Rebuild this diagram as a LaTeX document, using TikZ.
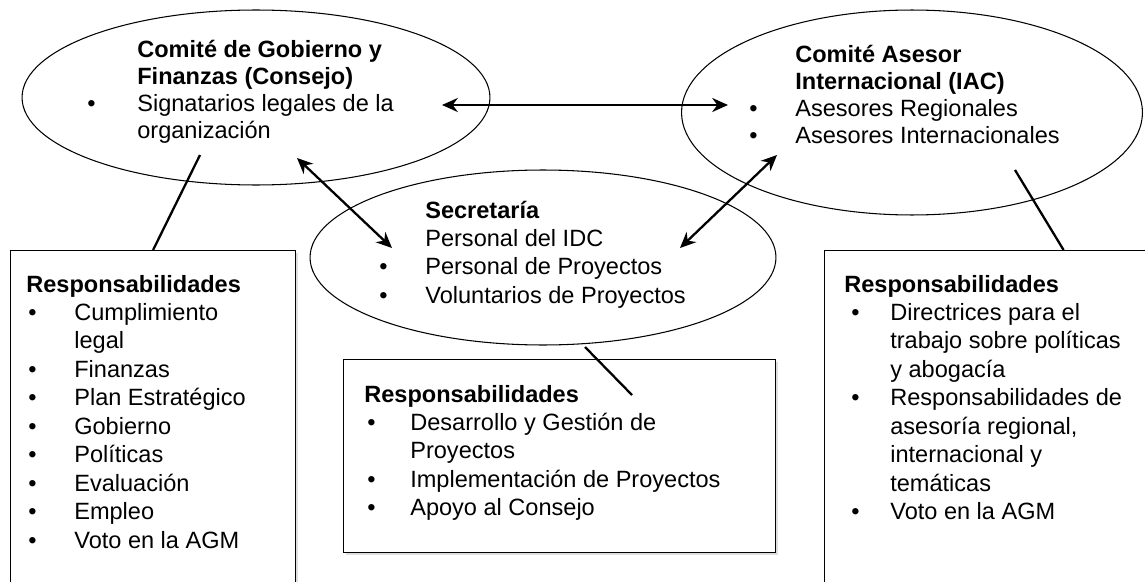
\documentclass[tikz,border=0pt]{standalone}
\usepackage{fontspec}
\setmainfont{Liberation Sans}
\usepackage{tikz}
\usetikzlibrary{shapes.geometric,arrows.meta,shadows}
\tikzset{
    org/.style={
      ellipse,
      draw=black, line width=0.6pt,
      inner sep=0pt,
    },
    resp/.style={
      rectangle,
      draw=black, line width=0.7pt,
      fill=white,
      drop shadow={opacity=0.25,shadow xshift=1.5pt,shadow yshift=-1.5pt},
      anchor=north west,
      inner sep=0pt,
    },
    txt/.style={
      anchor=base west,
      inner sep=0pt,
      font=\fontsize{13.4}{#1}\selectfont,
    },
    txt/.default={16.2},
    link/.style={
      line width=1.3pt,
    },
}
\newcommand{\bul}[2]{\makebox[#1][l]{\hspace{#2}\textbullet}}

\begin{document}
\begin{tikzpicture}[x=0.02cm,y=-0.02cm,>={Stealth[length=9pt,width=8pt]}]
  \useasboundingbox (0,0) rectangle (1145,581);

  \node[org, minimum width=9.36cm, minimum height=3.5cm] (GOB) at (256,97.5) {};
  \node[org, minimum width=9.22cm, minimum height=4.1cm] (IAC) at (912,112.5) {};
  \node[org, minimum width=9.32cm, minimum height=3.5cm] (SEC) at (543,257.5) {};

  \node[resp, minimum width=5.7cm, minimum height=7.4cm] (GOBR) at (10,250) {};
  \node[resp, minimum width=8.64cm, minimum height=3.86cm] (SECR) at (343,359) {};
  \node[resp, minimum width=9.56cm, minimum height=7.4cm] (IACR) at (824,250) {};

  \node[txt=15.3] (GOBT) at (87,58)
  {
    \begin{tabular}[t]{@{}l@{}l@{}}
      & \textbf{Comité de Gobierno y} \\
      & \textbf{Finanzas (Consejo)} \\
      \bul{1cm}{0cm} & Signatarios legales de la \\
      & organización
    \end{tabular}
  };

  \node[txt=15.3] (IACT) at (749,63)
  {
    \begin{tabular}[t]{@{}l@{}l@{}}
      & \textbf{Comité Asesor} \\
      & \textbf{Internacional (IAC)} \\
      \bul{0.92cm}{0cm} & Asesores Regionales \\
      \bul{0.92cm}{0cm} & Asesores Internacionales
    \end{tabular}
  };

  \node[txt] (SECT) at (379,218)
  {
    \begin{tabular}[t]{@{}l@{}l@{}}
      & \textbf{Secretaría} \\
      & Personal del IDC \\
      \bul{0.92cm}{0cm} & Personal de Proyectos \\
      \bul{0.92cm}{0cm} & Voluntarios de Proyectos
    \end{tabular}
  };

  \node[txt] (GOBRT) at (26,292)
  {
    \begin{tabular}[t]{@{}l@{}l@{}}
      \multicolumn{2}{@{}l@{}}{\textbf{Responsabilidades}} \\
      \bul{0.96cm}{0.04cm} & Cumplimiento \\
      & legal \\
      \bul{0.96cm}{0.04cm} & Finanzas \\
      \bul{0.96cm}{0.04cm} & Plan Estratégico \\
      \bul{0.96cm}{0.04cm} & Gobierno \\
      \bul{0.96cm}{0.04cm} & Políticas \\
      \bul{0.96cm}{0.04cm} & Evaluación \\
      \bul{0.96cm}{0.04cm} & Empleo \\
      \bul{0.96cm}{0.04cm} & Voto en la AGM
    \end{tabular}
  };

  \node[txt] (SECRT) at (364,402)
  {
    \begin{tabular}[t]{@{}l@{}l@{}}
      \multicolumn{2}{@{}l@{}}{\textbf{Responsabilidades}} \\
      \bul{0.92cm}{0.06cm} & Desarrollo y Gestión de \\
      & Proyectos \\
      \bul{0.92cm}{0.06cm} & Implementación de Proyectos \\
      \bul{0.92cm}{0.06cm} & Apoyo al Consejo
    \end{tabular}
  };

  \node[txt] (IACRT) at (844,292)
  {
    \begin{tabular}[t]{@{}l@{}l@{}}
      \multicolumn{2}{@{}l@{}}{\textbf{Responsabilidades}} \\
      \bul{0.92cm}{0.14cm} & Directrices para el \\
      & trabajo sobre políticas \\
      & y abogacía \\
      \bul{0.92cm}{0.14cm} & Responsabilidades de \\
      & asesoría regional, \\
      & internacional y \\
      & temáticas \\
      \bul{0.92cm}{0.14cm} & Voto en la AGM
    \end{tabular}
  };

  \coordinate (GOBe) at (442,105);
  \coordinate (IACw) at (728,105);
  \coordinate (GOBs) at (297,158);
  \coordinate (SECnw) at (392,248);
  \coordinate (IACs) at (777,155);
  \coordinate (SECne) at (680,248);
  \coordinate (GOBb) at (200,155);
  \coordinate (IACb) at (1015,170);
  \coordinate (SECb) at (585,347);
  \coordinate (SECRin) at (632,395);

  \path[link]
  (GOBe) edge[<->] (IACw)
  (GOBs) edge[<->] (SECnw)
  (IACs) edge[<->] (SECne)
  (GOBb) edge (GOBR.north)
  (IACb) edge (IACR.north)
  (SECb) edge (SECRin);

\end{tikzpicture}
\end{document}
